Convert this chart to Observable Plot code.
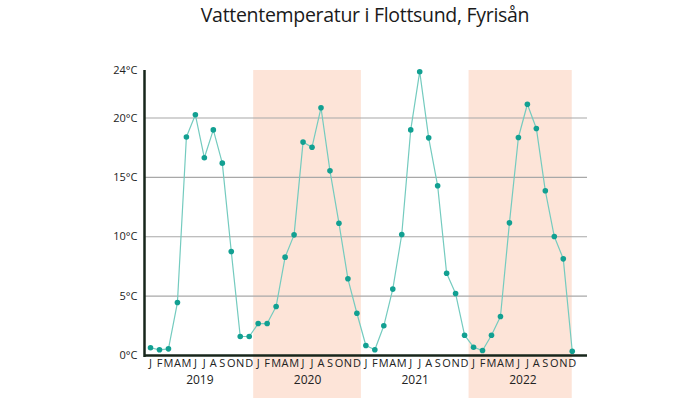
<!DOCTYPE html>
<html>
<head>
<meta charset="utf-8">
<script src="https://cdn.jsdelivr.net/npm/d3@7"></script>
<script src="https://cdn.jsdelivr.net/npm/@observablehq/plot@0.6"></script>
<style>
  html, body { margin: 0; padding: 0; background: #fff; }
  #wrap { position: relative; width: 700px; height: 398px; font-family: "Open Sans", "Noto Sans", sans-serif; }
  #title { position: absolute; left: 0; width: 730px; top: 1px; text-align: center; font-size: 19.5px; color: #1a1a1a; letter-spacing: -0.3px; }
  #chart { position: absolute; left: 0; top: 0; }
</style>
</head>
<body>
<div id="wrap">
  <div id="chart"></div>
  <div id="title">Vattentemperatur i Flottsund, Fyrisån</div>
</div>
<script>
const months = ["J","F","M","A","M","J","J","A","S","O","N","D"];
const years = [2019, 2020, 2021, 2022];
const shadedYears = [2020, 2022];
const temps2019 = [0.65, 0.48, 0.56, 4.46, 18.4, 20.27, 16.65, 19.0, 16.2, 8.76, 1.6, 1.6];
const temps2020 = [2.69, 2.69, 4.13, 8.28, 10.16, 17.97, 17.54, 20.86, 15.55, 11.14, 6.46, 3.56];
const temps2021 = [0.84, 0.48, 2.5, 5.59, 10.19, 19.0, 23.9, 18.33, 14.29, 6.93, 5.22, 1.71];
const temps2022 = [0.7, 0.42, 1.71, 3.28, 11.17, 18.36, 21.16, 19.12, 13.87, 10.02, 8.14, 0.36];
const yTicks = [0, 5, 10, 15, 20, 24];

const series = [temps2019, temps2020, temps2021, temps2022];
const data = [];
series.forEach((vals, yi) => vals.forEach((v, mi) => data.push({i: yi * 12 + mi, year: years[yi], month: months[mi], temp: v})));
const lastIndex = data.length - 1;
const bands = shadedYears.map(y => {
  const yi = years.indexOf(y);
  return {x1: yi * 12 - 0.5, x2: Math.min(yi * 12 + 11.5, lastIndex)};
});
const yearLabels = years.map((y, yi) => ({year: String(y), i: yi * 12 + 5.5}));

const xDomain = [-0.67, 48.7];

const chart = Plot.plot({
  width: 700,
  height: 398,
  marginLeft: 144,
  marginRight: 113,
  marginTop: 70,
  marginBottom: 43,
  style: {fontFamily: "'Open Sans', 'Noto Sans', sans-serif", background: "transparent"},
  x: {type: "linear", domain: xDomain, axis: null},
  y: {domain: [0, 24], axis: null},
  marks: [
    Plot.rect(bands, {x1: "x1", x2: "x2", fill: "#fde4d8", insetBottom: -43}),
    Plot.ruleY(yTicks.filter(t => t > 0 && t < 24), {stroke: "#a8a8a8", strokeWidth: 1.2}),
    Plot.axisY(yTicks, {tickSize: 0, tickPadding: 7, fontSize: 11, fill: "#222", label: null, tickFormat: d => d + "°C"}),
    Plot.line(data, {x: "i", y: "temp", stroke: "#74cbbf", strokeWidth: 1.2}),
    Plot.dot(data, {x: "i", y: "temp", r: 2.8, fill: "#12a092", stroke: "none"}),
    Plot.ruleY([0], {stroke: "#17261b", strokeWidth: 2.5}),
    Plot.ruleX([xDomain[0]], {stroke: "#17261b", strokeWidth: 2.5, insetBottom: -2}),
    Plot.text(data, {x: "i", text: "month", frameAnchor: "bottom", dy: 11, fontSize: 11, fill: "#222"}),
    Plot.text(yearLabels, {x: "i", text: "year", frameAnchor: "bottom", dy: 28, fontSize: 12, fill: "#222"})
  ]
});
document.getElementById("chart").appendChild(chart);
</script>
</body>
</html>
